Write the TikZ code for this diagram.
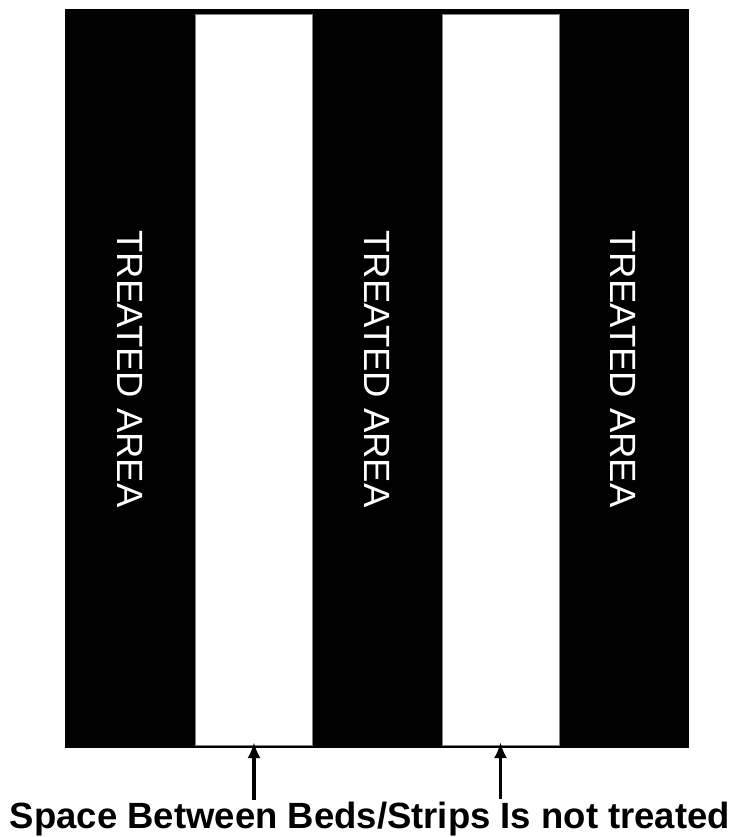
\documentclass[tikz,border=0pt]{standalone}
\usepackage{fontspec}
\setmainfont{Liberation Sans}
\usetikzlibrary{arrows,arrows.meta,positioning}

\begin{document}
\begin{tikzpicture}[
      x=1pt,y=-1pt,
      every node/.style={inner sep=0pt,outer sep=0pt},
      field/.style={fill=black,draw=black,line width=1.5pt,minimum width=622pt,minimum height=737pt},
      gap/.style={fill=white,draw=black!50,line width=0.4pt,minimum width=117pt,minimum height=731pt},
      areatext/.style={text=white,rotate=-90,font=\fontsize{36.5}{40}\selectfont},
      pointer/.style={-{Latex[length=16pt,width=13pt]},line width=3.2pt,shorten >=-3pt}
    ]
    \useasboundingbox (0,0) rectangle (736,837);

    % the field and the untreated gaps
    \node[field] (fld) at (377,378.5) {};
    \node[gap] (gapa) at (254,379.5) {};
    \node[gap] (gapb) at (500.5,379.5) {};

    % the treated beds
    \node[areatext] (ta) at (130.5,369) {TREATED AREA};
    \node[areatext] (tb) at (377.5,369) {TREATED AREA};
    \node[areatext] (tc) at (623.5,369) {TREATED AREA};

    % the note and its arrows
    \node[anchor=base,font=\bfseries\fontsize{36.5}{40}\selectfont] (note) at (370,828) {Space Between Beds/Strips Is not treated};
    \coordinate (enda) at (254,800);
    \coordinate (endb) at (500.5,799);
    \draw[pointer] (enda) -- (gapa.south);
    \draw[pointer] (endb) -- (gapb.south);
\end{tikzpicture}
\end{document}
